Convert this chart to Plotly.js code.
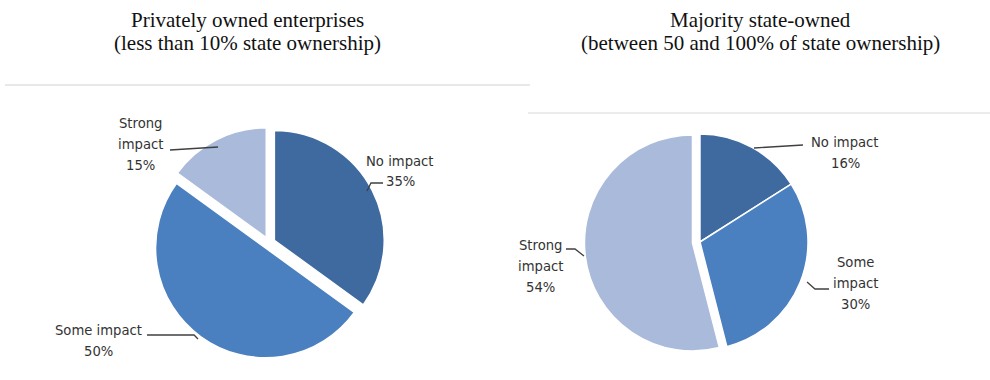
<!DOCTYPE html>
<html>
<head>
<meta charset="utf-8">
<script src="https://cdn.plot.ly/plotly-3.0.1.min.js"></script>
<style>html,body{margin:0;padding:0;background:#fff;}#chart{width:990px;height:380px;}</style>
</head>
<body>
<div id="chart"></div>
<script>
// ---- data ----
const categories = ["No impact", "Some impact", "Strong impact"];
const privateValues = [35, 50, 15];
const stateValues = [16, 30, 54];
const privateTitle = ["Privately owned enterprises", "(less than 10% state ownership)"];
const stateTitle = ["Majority state-owned", "(between 50 and 100% of state ownership)"];

// ---- styles / layout ----
const W = 990, H = 380;
const colors = ["#3e6aa0", "#4a7fc0", "#a9badb"];
const px = x => x / W;
const py = y => 1 - y / H;
const labelFont = {family: "DejaVu Sans, sans-serif", size: 13.2, color: "#333333"};
const titleFont = {family: "Liberation Serif, Times New Roman, serif", size: 21, color: "#111111"};

// label placement per slice: center x, first-line y, wrap label into words, leader path
const leftLabels = [
  {x: 400, y: 161, wrap: false, path: [[367,191],[371,183],[383,183]]},
  {x: 98,  y: 330, wrap: false, path: [[147,335],[194,335],[198,339]]},
  {x: 140, y: 123, wrap: true,  path: [[170,150],[218,147]]}
];
const rightLabels = [
  {x: 845, y: 142, wrap: false, path: [[754,148],[803,145]]},
  {x: 855, y: 262, wrap: true,  path: [[807,282],[815,289],[829,289]]},
  {x: 540, y: 245, wrap: true,  path: [[566,249],[575,249],[584,256]]}
];
const lineStep = 21;

function pieTrace(values, dom, pull) {
  return {
    type: "pie",
    labels: categories,
    values: values,
    sort: false,
    direction: "clockwise",
    rotation: 0,
    pull: pull,
    textinfo: "none",
    hoverinfo: "label+percent",
    showlegend: false,
    marker: {colors: colors, line: {color: "#ffffff", width: 1.5}},
    domain: dom
  };
}

const traces = [
  pieTrace(privateValues, {x: [0.1545, 0.3889], y: [0.0555, 0.6655]}, [0.055, 0.055, 0.055]),
  pieTrace(stateValues,   {x: [0.5903, 0.8238], y: [0.0589, 0.6674]}, [0, 0, 0.07])
];

const annotations = [];
const shapes = [];

function addTitle(lines, cx) {
  lines.forEach((t, i) => {
    annotations.push({text: t, x: px(cx), y: py(20 + i * 23), xref: "paper", yref: "paper",
      xanchor: "center", yanchor: "middle", showarrow: false, font: titleFont});
  });
}
addTitle(privateTitle, 247);
addTitle(stateTitle, 760);

function addLabels(values, specs) {
  categories.forEach((cat, i) => {
    const s = specs[i];
    const lines = (s.wrap ? cat.split(" ") : [cat]).concat([values[i] + "%"]);
    lines.forEach((t, j) => {
      annotations.push({text: t, x: px(s.x), y: py(s.y + j * lineStep), xref: "paper", yref: "paper",
        xanchor: "center", yanchor: "middle", showarrow: false, font: labelFont});
    });
    const d = s.path.map((p, k) => (k ? "L" : "M") + px(p[0]).toFixed(4) + "," + py(p[1]).toFixed(4)).join(" ");
    shapes.push({type: "path", xref: "paper", yref: "paper", path: d,
      line: {color: "#404040", width: 1.3}});
  });
}
addLabels(privateValues, leftLabels);
addLabels(stateValues, rightLabels);

// faint frame lines of the original chart boxes
shapes.push({type: "line", xref: "paper", yref: "paper", x0: px(5), x1: px(530), y0: py(85), y1: py(85),
  line: {color: "#e8e8e8", width: 2}});
shapes.push({type: "line", xref: "paper", yref: "paper", x0: px(528), x1: px(990), y0: py(113), y1: py(113),
  line: {color: "#ececec", width: 2}});

const layout = {
  width: W, height: H,
  margin: {l: 0, r: 0, t: 0, b: 0},
  paper_bgcolor: "#ffffff",
  plot_bgcolor: "#ffffff",
  annotations: annotations,
  shapes: shapes
};

Plotly.newPlot("chart", traces, layout, {displayModeBar: false, staticPlot: true});
</script>
</body>
</html>
